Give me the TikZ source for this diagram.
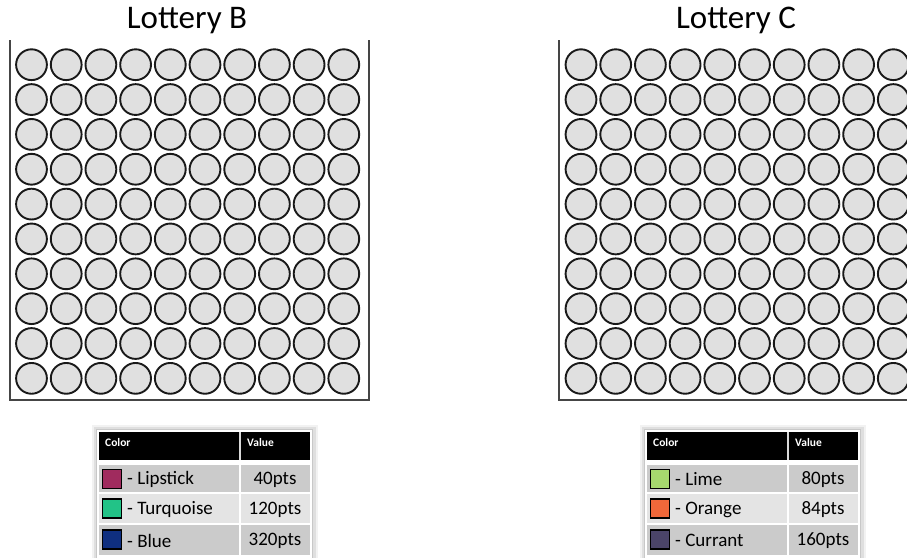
\documentclass[tikz,border=0pt]{standalone}
\usepackage{fontspec}
\setmainfont{Carlito}
\definecolor{ballfill}{HTML}{E0E0E0}
\definecolor{frame}{HTML}{454545}
\definecolor{rowdark}{HTML}{CBCBCB}
\definecolor{rowlight}{HTML}{E4E4E4}
\definecolor{tblborder}{HTML}{C8C8C8}
\definecolor{lipstick}{HTML}{A02B5E}
\definecolor{turquoise}{HTML}{22C387}
\definecolor{bluec}{HTML}{0F2F80}
\definecolor{lime}{HTML}{A6D86E}
\definecolor{orangec}{HTML}{F0683A}
\definecolor{currant}{HTML}{4B4468}
\tikzset{
  ball/.style={circle, draw=black!90, fill=ballfill, line width=1.9pt, minimum size=30.8pt, inner sep=0pt},
  container/.style={draw=frame, line width=1.8pt},
  title/.style={font=\fontsize{33}{40}\selectfont, anchor=base},
  hdr/.style={font=\fontsize{11.5}{13}\selectfont\bfseries, text=white, anchor=west, inner sep=0pt},
  item/.style={font=\fontsize{19}{22}\selectfont, anchor=west, inner sep=0pt},
  val/.style={font=\fontsize{19}{22}\selectfont, anchor=center, inner sep=0pt},
  swatch/.style={draw=black, line width=1.5pt, minimum size=19pt, inner sep=0pt},
}
\begin{document}
\begin{tikzpicture}[x=1pt,y=-1pt]
\useasboundingbox (0,0) rectangle (907,557);
\clip (0,0) rectangle (907,557);
\fill[white] (0,0) rectangle (907,557);

% titles
\node[title] (tB) at (187,28) {Lottery B};
\node[title] (tC) at (736,28) {Lottery C};

% containers
\draw[container] (10,40) -- (10,400) -- (369,400) -- (369,40);
\draw[container] (559,40) -- (559,400) -- (918,400) -- (918,40);

% balls
\foreach \i in {0,...,9}{
  \foreach \j in {0,...,9}{
    \node[ball] (b-\i-\j) at ({31.5+34.7*\i},{64.7+34.85*\j}) {};
    \node[ball] (c-\i-\j) at ({581+34.7*\i},{64.7+34.85*\j}) {};
  }
}

% tables
\foreach \ox/\nm/\ca/\cb/\cc/\la/\lb/\lc/\va/\vb/\vc in {
  0/B/lipstick/turquoise/bluec/Lipstick/Turquoise/Blue/40pts/120pts/320pts,
  548/C/lime/orangec/currant/Lime/Orange/Currant/80pts/84pts/160pts}{
  \begin{scope}[xshift=\ox]
    % shadow
    \fill[black, opacity=0.05] (92,425) rectangle (318,560);
    \fill[black, opacity=0.08] (94,427) rectangle (316,560);
    \fill[white] (96,429) rectangle (312,560);
    \draw[tblborder, line width=1pt] (96,429) rectangle (312,560);
    % header
    \fill[black] (99,432) rectangle (310,459.5);
    \draw[white!85!black, line width=1.2pt] (240,432) -- (240,459.5);
    \node[hdr] (\nm-hc) at (105,443) {Color};
    \node[hdr] (\nm-hv) at (247,443) {Value};
    % rows
    \fill[rowdark]  (99,465) rectangle (239,492);
    \fill[rowdark]  (241,465) rectangle (310,492);
    \fill[rowlight] (99,494) rectangle (239,523);
    \fill[rowlight] (241,494) rectangle (310,523);
    \fill[rowdark]  (99,525) rectangle (239,555);
    \fill[rowdark]  (241,525) rectangle (310,555);
    \node[swatch, fill=\ca] (\nm-s1) at (112,479) {};
    \node[swatch, fill=\cb] (\nm-s2) at (112,508.5) {};
    \node[swatch, fill=\cc] (\nm-s3) at (112,539.5) {};
    \node[item] (\nm-l1) at (127,479.5) {- \la};
    \node[item] (\nm-l2) at (127,509.5) {- \lb};
    \node[item] (\nm-l3) at (127,540.5) {- \lc};
    \node[val] (\nm-v1) at (275,479.5) {\va};
    \node[val] (\nm-v2) at (275,509.5) {\vb};
    \node[val] (\nm-v3) at (275,540.5) {\vc};
  \end{scope}
}
\end{tikzpicture}
\end{document}
